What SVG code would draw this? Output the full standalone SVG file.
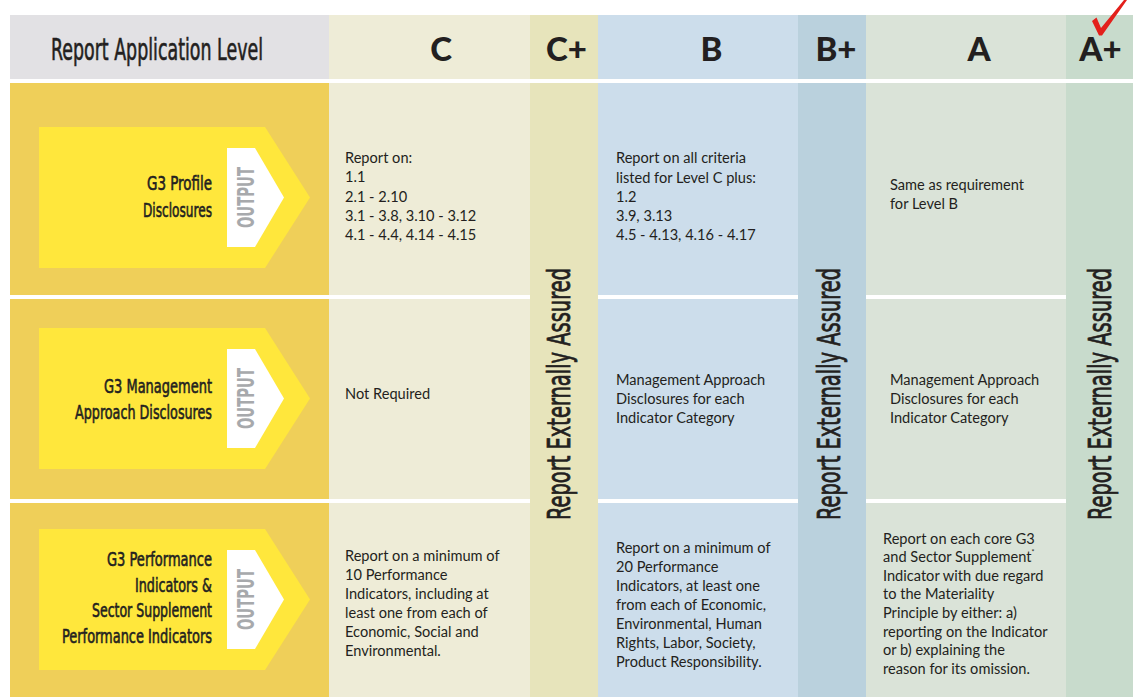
<svg xmlns="http://www.w3.org/2000/svg" width="1133" height="697" viewBox="0 0 1133 697">
<style>
.body{font-family:Lato,"Open Sans","Liberation Sans",sans-serif;font-size:14.6px;fill:#231F20}
.cond{font-family:"Liberation Sans Narrow","DejaVu Sans Condensed","Liberation Sans",sans-serif;fill:#231F20;stroke:#231F20;stroke-width:0.6px}
.lbl{font-size:20px;text-anchor:end}
.hdr{font-family:Lato,"Liberation Sans",sans-serif;font-weight:900;font-size:33px;fill:#231F20;text-anchor:middle}
.out{font-family:"Liberation Sans Narrow","DejaVu Sans Condensed","Liberation Sans",sans-serif;font-weight:bold;font-size:23px;fill:#A7A9AC;text-anchor:middle}
.rea{font-size:32px;text-anchor:middle;stroke-width:0.8px}
.gold{fill:#EFCF59}
.arrow{fill:#FFE73C}
.cC{fill:#EEECD7}.cCp{fill:#E7E4BB}.cB{fill:#CCDDEB}.cBp{fill:#BAD1DD}.cA{fill:#DAE3D8}.cAp{fill:#C8DBCC}
</style>
<rect width="1133" height="697" fill="#FFFFFF"/>

<g id="header">
  <rect x="10" y="15" width="319" height="64" fill="#E2E1E4"/>
  <rect class="cC" x="329" y="15" width="201" height="64"/>
  <rect class="cCp" x="530" y="15" width="68" height="64"/>
  <rect class="cB" x="598" y="15" width="200" height="64"/>
  <rect class="cBp" x="798" y="15" width="68" height="64"/>
  <rect class="cA" x="866" y="15" width="200" height="64"/>
  <rect class="cAp" x="1066" y="15" width="67" height="64"/>
  <text class="cond" x="51" y="60" font-size="30" textLength="212" lengthAdjust="spacingAndGlyphs">Report Application Level</text>
  <text class="hdr" x="441" y="61">C</text>
  <text class="hdr" x="566.5" y="61">C+</text>
  <text class="hdr" x="711.5" y="61">B</text>
  <text class="hdr" x="836" y="61">B+</text>
  <text class="hdr" x="979" y="61">A</text>
  <text class="hdr" x="1100.5" y="61">A+</text>
  <path d="M1092,21 L1096.5,17.5 L1101,28 L1124,0 L1127,0 L1102,35.5 L1099,35.5 Z" fill="#E3201B"/>
</g>

<g id="plus-columns">
  <rect class="cCp" x="530" y="83" width="68" height="614"/>
  <rect class="cBp" x="798" y="83" width="68" height="614"/>
  <rect class="cAp" x="1066" y="83" width="67" height="614"/>
  <text class="cond rea" transform="translate(570,394) rotate(-90)" textLength="252" lengthAdjust="spacingAndGlyphs">Report Externally Assured</text>
  <text class="cond rea" transform="translate(840,394) rotate(-90)" textLength="252" lengthAdjust="spacingAndGlyphs">Report Externally Assured</text>
  <text class="cond rea" transform="translate(1111,394) rotate(-90)" textLength="252" lengthAdjust="spacingAndGlyphs">Report Externally Assured</text>
</g>

<g id="row-profile">
  <rect class="gold" x="10" y="83" width="319" height="212"/>
  <rect class="cC" x="329" y="83" width="201" height="212"/>
  <rect class="cB" x="598" y="83" width="200" height="212"/>
  <rect class="cA" x="866" y="83" width="200" height="212"/>
  <polygon class="arrow" points="39,127 265,127 310,197.5 265,268 39,268"/>
  <polygon fill="#FFFFFF" points="227,148 255,148 284,197.5 255,247 227,247"/>
  <text class="out" transform="translate(254,197.5) rotate(-90)" textLength="61" lengthAdjust="spacingAndGlyphs">OUTPUT</text>
  <text class="cond lbl" x="212" y="190" textLength="65" lengthAdjust="spacingAndGlyphs">G3 Profile</text>
  <text class="cond lbl" x="212" y="217" textLength="69" lengthAdjust="spacingAndGlyphs">Disclosures</text>
  <text class="body"><tspan x="345" y="163">Report on:</tspan><tspan x="345" y="182">1.1</tspan><tspan x="345" y="202">2.1 - 2.10</tspan><tspan x="345" y="221">3.1 - 3.8, 3.10 - 3.12</tspan><tspan x="345" y="240">4.1 - 4.4, 4.14 - 4.15</tspan></text>
  <text class="body"><tspan x="616" y="163">Report on all criteria</tspan><tspan x="616" y="183">listed for Level C plus:</tspan><tspan x="616" y="202">1.2</tspan><tspan x="616" y="221">3.9, 3.13</tspan><tspan x="616" y="240">4.5 - 4.13, 4.16 - 4.17</tspan></text>
  <text class="body"><tspan x="890" y="190">Same as requirement</tspan><tspan x="890" y="209">for Level B</tspan></text>
</g>

<g id="row-management">
  <rect class="gold" x="10" y="299" width="319" height="200"/>
  <rect class="cC" x="329" y="299" width="201" height="200"/>
  <rect class="cB" x="598" y="299" width="200" height="200"/>
  <rect class="cA" x="866" y="299" width="200" height="200"/>
  <polygon class="arrow" points="39,328 265,328 310,398.5 265,469 39,469"/>
  <polygon fill="#FFFFFF" points="227,349 255,349 284,398.5 255,448 227,448"/>
  <text class="out" transform="translate(254,398.5) rotate(-90)" textLength="61" lengthAdjust="spacingAndGlyphs">OUTPUT</text>
  <text class="cond lbl" x="212" y="393" textLength="108" lengthAdjust="spacingAndGlyphs">G3 Management</text>
  <text class="cond lbl" x="212" y="419" textLength="137" lengthAdjust="spacingAndGlyphs">Approach Disclosures</text>
  <text class="body" x="345" y="399">Not Required</text>
  <text class="body"><tspan x="616" y="385">Management Approach</tspan><tspan x="616" y="404">Disclosures for each</tspan><tspan x="616" y="423">Indicator Category</tspan></text>
  <text class="body"><tspan x="890" y="385">Management Approach</tspan><tspan x="890" y="404">Disclosures for each</tspan><tspan x="890" y="423">Indicator Category</tspan></text>
</g>

<g id="row-performance">
  <rect class="gold" x="10" y="503" width="319" height="194"/>
  <rect class="cC" x="329" y="503" width="201" height="194"/>
  <rect class="cB" x="598" y="503" width="200" height="194"/>
  <rect class="cA" x="866" y="503" width="200" height="194"/>
  <polygon class="arrow" points="39,529 265,529 310,599.5 265,670 39,670"/>
  <polygon fill="#FFFFFF" points="227,550 255,550 284,599.5 255,649 227,649"/>
  <text class="out" transform="translate(254,599.5) rotate(-90)" textLength="61" lengthAdjust="spacingAndGlyphs">OUTPUT</text>
  <text class="cond lbl" x="212" y="566" textLength="105" lengthAdjust="spacingAndGlyphs">G3 Performance</text>
  <text class="cond lbl" x="212" y="592" textLength="77" lengthAdjust="spacingAndGlyphs">Indicators &amp;</text>
  <text class="cond lbl" x="212" y="617" textLength="120" lengthAdjust="spacingAndGlyphs">Sector Supplement</text>
  <text class="cond lbl" x="212" y="643" textLength="150" lengthAdjust="spacingAndGlyphs">Performance Indicators</text>
  <text class="body"><tspan x="345" y="561">Report on a minimum of</tspan><tspan x="345" y="580">10 Performance</tspan><tspan x="345" y="599">Indicators, including at</tspan><tspan x="345" y="618">least one from each of</tspan><tspan x="345" y="637">Economic, Social and</tspan><tspan x="345" y="656">Environmental.</tspan></text>
  <text class="body"><tspan x="616" y="553">Report on a minimum of</tspan><tspan x="616" y="572">20 Performance</tspan><tspan x="616" y="591">Indicators, at least one</tspan><tspan x="616" y="610">from each of Economic,</tspan><tspan x="616" y="629">Environmental, Human</tspan><tspan x="616" y="648">Rights, Labor, Society,</tspan><tspan x="616" y="667">Product Responsibility.</tspan></text>
  <text class="body"><tspan x="883" y="544">Report on each core G3</tspan><tspan x="883" y="562">and Sector Supplement<tspan font-size="7" dy="-7">*</tspan></tspan><tspan x="883" y="581">Indicator with due regard</tspan><tspan x="883" y="599">to the Materiality</tspan><tspan x="883" y="618">Principle by either: a)</tspan><tspan x="883" y="637">reporting on the Indicator</tspan><tspan x="883" y="655">or b) explaining the</tspan><tspan x="883" y="674">reason for its omission.</tspan></text>
</g>
</svg>
